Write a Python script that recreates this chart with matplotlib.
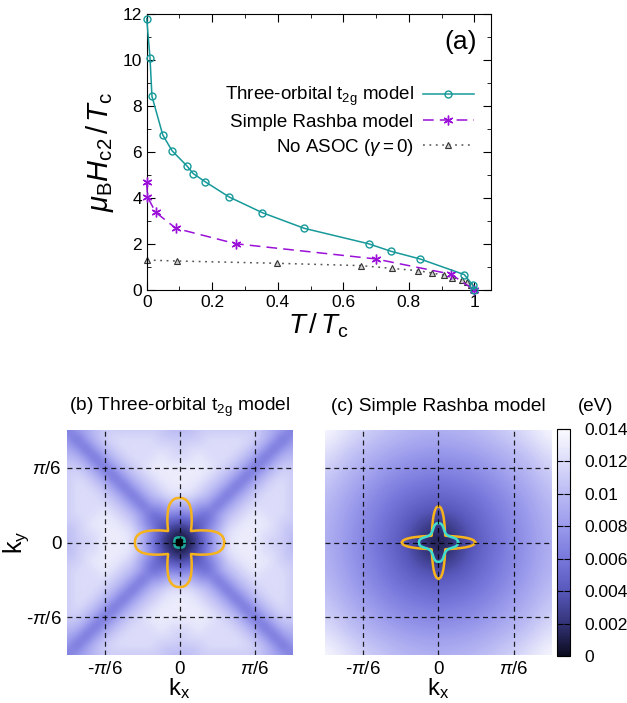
import numpy as np
import matplotlib
matplotlib.use("Agg")
import matplotlib.pyplot as plt
from matplotlib.colors import LinearSegmentedColormap
from matplotlib.ticker import MultipleLocator, FuncFormatter

plt.rcParams['font.family'] = ['Liberation Sans', 'DejaVu Sans']
plt.rcParams['mathtext.fontset'] = 'custom'
plt.rcParams['mathtext.rm'] = 'Liberation Sans'
plt.rcParams['mathtext.it'] = 'Liberation Sans:italic'
plt.rcParams['mathtext.bf'] = 'Liberation Sans:bold'

# ---- (a) upper critical field vs temperature ----
t2g_T = [0.0, 0.01, 0.016, 0.049, 0.077, 0.123, 0.142, 0.178, 0.252, 0.353,
         0.481, 0.677, 0.746, 0.834, 0.969, 0.995, 1.0]
t2g_H = [11.8, 10.1, 8.42, 6.74, 6.06, 5.39, 5.06, 4.71, 4.04, 3.36,
         2.68, 2.01, 1.68, 1.35, 0.67, 0.22, 0.0]

rashba_T = [0.0, 0.002, 0.027, 0.089, 0.272, 0.699, 0.928, 1.0]
rashba_H = [4.71, 4.06, 3.38, 2.68, 2.01, 1.35, 0.69, 0.0]

noasoc_T = [0.002, 0.093, 0.399, 0.653, 0.748, 0.827, 0.87, 0.908, 0.931,
            0.963, 0.976, 0.99, 1.0]
noasoc_H = [1.30, 1.26, 1.16, 1.06, 0.94, 0.84, 0.74, 0.64, 0.54,
            0.43, 0.33, 0.22, 0.0]

labels_a = ['Three-orbital t$_\\mathrm{2g}$ model', 'Simple Rashba model',
            r'No ASOC ($\gamma = 0$)']

# ---- (b) gap map, three-orbital model (meV, hex digits), one quadrant ----
# rows: |ky| step 0..12, columns: |kx| step 0..12 (step = pi/48)
gap_b_quad = [
    "01369cdddcbba",
    "1247acdddccba",
    "34468bcdddcbb",
    "67658abcdcccb",
    "9a8858abccccb",
    "ccba858abcccb",
    "ddcba858abccb",
    "dddcba858abcb",
    "ddddcba858abb",
    "ccdcccba858aa",
    "bccccccba8589",
    "bbbcccccba858",
    "aabbbbbbba986",
]

# ---- (c) gap map, simple Rashba model (meV), one quadrant, step = pi/24 ----
gap_c_quad = [
    [0.0, 2.3, 4.2, 5.5, 6.8, 8.1, 9.4],
    [2.3, 3.1, 4.6, 5.8, 7.0, 8.3, 9.6],
    [4.2, 4.6, 5.3, 6.3, 7.4, 8.7, 10.0],
    [5.5, 5.8, 6.3, 7.1, 8.2, 9.4, 10.7],
    [6.8, 7.0, 7.4, 8.2, 9.1, 10.2, 11.5],
    [8.1, 8.3, 8.7, 9.4, 10.2, 11.3, 12.7],
    [9.4, 9.6, 10.0, 10.7, 11.5, 12.7, 14.0],
]

# Fermi surfaces, first quadrant (units of pi/4)
fs_b_orange_x = [0.397, 0.393, 0.380, 0.360, 0.335, 0.290, 0.240, 0.190, 0.145, 0.118, 0.102,
                 0.103, 0.106, 0.108, 0.107, 0.102, 0.090, 0.075, 0.057, 0.032, 0.000]
fs_b_orange_y = [0.000, 0.032, 0.057, 0.075, 0.090, 0.102, 0.107, 0.108, 0.106, 0.103, 0.102,
                 0.118, 0.145, 0.190, 0.240, 0.290, 0.335, 0.360, 0.380, 0.393, 0.397]
fs_b_cyan_x = [0.046, 0.045, 0.040, 0.035, 0.020, 0.000]
fs_b_cyan_y = [0.000, 0.020, 0.035, 0.040, 0.045, 0.046]

fs_c_orange_x = [0.325, 0.310, 0.280, 0.240, 0.190, 0.140, 0.090, 0.062,
                 0.060, 0.058, 0.055, 0.050, 0.043, 0.033, 0.020, 0.000]
fs_c_orange_y = [0.000, 0.020, 0.033, 0.043, 0.050, 0.055, 0.058, 0.060,
                 0.062, 0.090, 0.140, 0.190, 0.240, 0.280, 0.310, 0.325]
fs_c_cyan_x = [0.173, 0.168, 0.155, 0.135, 0.110, 0.090, 0.075,
               0.068, 0.058, 0.050, 0.042, 0.033, 0.020, 0.000]
fs_c_cyan_y = [0.000, 0.020, 0.033, 0.042, 0.050, 0.058, 0.068,
               0.075, 0.090, 0.110, 0.135, 0.155, 0.168, 0.173]

cbar_ticks = [0, 0.002, 0.004, 0.006, 0.008, 0.01, 0.012, 0.014]
k_ticks = [-np.pi / 6, 0, np.pi / 6]
k_ticklabels = [r'-$\pi$/6', '0', r'$\pi$/6']


def mirror_quad(q):
    q = np.asarray(q, dtype=float)
    top = np.hstack([q[:, :0:-1], q])
    return np.vstack([top[:0:-1], top])


def full_curve(xs, ys):
    xs = np.asarray(xs)
    ys = np.asarray(ys)
    X = np.concatenate([xs, -xs[::-1], -xs, xs[::-1]])
    Y = np.concatenate([ys, ys[::-1], -ys, -ys[::-1]])
    return X * np.pi / 4, Y * np.pi / 4


cmap = LinearSegmentedColormap.from_list(
    'gap', ['#0b0b1e', '#333378', '#5858bc', '#7878dc', '#9a9aec',
            '#babaf4', '#dcdcfa', '#fbfbff'])

fig = plt.figure(figsize=(6.27, 7.03), dpi=100)

# ---------------- panel (a) ----------------
ax = fig.add_axes([0.234, 0.5875, 0.5487, 0.3926])
ax.plot(t2g_T, t2g_H, '-', color='#17999a', lw=1.1, marker='o', ms=5,
        mfc='none', mew=1.0, label=labels_a[0], clip_on=False, zorder=4)
ax.plot(rashba_T, rashba_H, color='#9a10d8', ls=(0, (7, 4)), lw=1.1,
        marker=(6, 2, 0), ms=7, mew=1.0, label=labels_a[1], clip_on=False, zorder=3)
ax.plot(noasoc_T, noasoc_H, color='#555555', ls=(0, (1.2, 3)), lw=1.1,
        marker='^', ms=5, mfc='#cfcfcf', mec='#333333', mew=0.8,
        label=labels_a[2], clip_on=False, zorder=2)
ax.set_xlim(0, 1.05)
ax.set_ylim(0, 12)
ax.xaxis.set_major_locator(MultipleLocator(0.2))
ax.xaxis.set_minor_locator(MultipleLocator(0.1))
ax.yaxis.set_major_locator(MultipleLocator(2))
ax.yaxis.set_minor_locator(MultipleLocator(1))
ax.xaxis.set_major_formatter(FuncFormatter(lambda v, p: '%g' % round(v, 3)))
ax.tick_params(which='both', direction='in', top=True, right=True, labelsize=12.5)
ax.tick_params(which='major', length=6)
ax.tick_params(which='minor', length=3)
ax.set_ylabel(r'$\mu_\mathrm{B} H_\mathrm{c2}\,/\,T_\mathrm{c}$', fontsize=21, labelpad=5)
ax.set_xlabel(r'$T\,/\,T_\mathrm{c}$', fontsize=20, labelpad=1)
ax.text(0.96, 0.90, '(a)', transform=ax.transAxes, ha='right', va='center', fontsize=19)
ax.legend(loc='upper right', bbox_to_anchor=(0.972, 0.77), frameon=False,
          markerfirst=False, handlelength=2.7, fontsize=13.5, labelspacing=0.3,
          borderaxespad=0, handletextpad=0.5)

# ---------------- panels (b), (c) ----------------
half = np.pi / 4


def gap_panel(rect, field, orange, cyan, cyan_color, title, show_y, fill_core):
    axm = fig.add_axes(rect)
    n = field.shape[0]
    h = 2 * half / (n - 1)
    im = axm.imshow(field, cmap=cmap, vmin=0, vmax=0.014, origin='upper',
                    extent=[-half - h / 2, half + h / 2, -half - h / 2, half + h / 2],
                    interpolation='bicubic', aspect='auto')
    ox, oy = full_curve(*orange)
    cx, cy = full_curve(*cyan)
    if fill_core:
        axm.fill(cx, cy, color='black', lw=0, zorder=2)
    axm.plot(ox, oy, color='#f7b31c', lw=1.8, zorder=3)
    axm.plot(cx, cy, color=cyan_color, lw=1.8, zorder=3)
    for k in k_ticks:
        axm.axhline(k, color='black', ls=(0, (4, 3)), lw=0.9, alpha=0.85, zorder=5)
        axm.axvline(k, color='black', ls=(0, (4, 3)), lw=0.9, alpha=0.85, zorder=5)
    axm.set_xlim(-half, half)
    axm.set_ylim(-half, half)
    for s in axm.spines.values():
        s.set_visible(False)
    axm.set_xticks(k_ticks)
    axm.set_xticklabels(k_ticklabels)
    axm.set_yticks(k_ticks)
    if show_y:
        axm.set_yticklabels(k_ticklabels)
        axm.set_ylabel(r'k$_\mathrm{y}$', fontsize=18)
        axm.yaxis.set_label_coords(-0.16, 0.5)
    else:
        axm.set_yticklabels([])
    axm.tick_params(length=0, labelsize=13.5, pad=4)
    axm.set_xlabel(r'k$_\mathrm{x}$', fontsize=17)
    axm.xaxis.set_label_coords(0.5, -0.095)
    axm.set_title(title, fontsize=13.8, pad=14)
    return im


gap_b = mirror_quad([[int(c, 16) for c in row] for row in gap_b_quad]) * 1e-3
gap_c = mirror_quad(gap_c_quad) * 1e-3

gap_panel([0.1069, 0.0683, 0.3589, 0.3200], gap_b,
          (fs_b_orange_x, fs_b_orange_y), (fs_b_cyan_x, fs_b_cyan_y), '#1fa99c',
          '(b) Three-orbital t$_\\mathrm{2g}$ model', True, True)
im = gap_panel([0.5183, 0.0683, 0.3620, 0.3200], gap_c,
               (fs_c_orange_x, fs_c_orange_y), (fs_c_cyan_x, fs_c_cyan_y), '#3fdcd0',
               '(c) Simple Rashba model', False, False)

cax = fig.add_axes([0.8888, 0.0669, 0.0203, 0.3229])
cb = fig.colorbar(im, cax=cax, ticks=cbar_ticks)
cb.ax.set_yticklabels(['%g' % t for t in cbar_ticks])
cb.ax.tick_params(direction='in', length=4, left=True, right=True, labelsize=12.5, pad=10)
cb.outline.set_linewidth(0.8)
cax.text(1.6, 1.06, '(eV)', transform=cax.transAxes, ha='left', va='bottom', fontsize=13.5)

fig.savefig('out.png', dpi=100)
